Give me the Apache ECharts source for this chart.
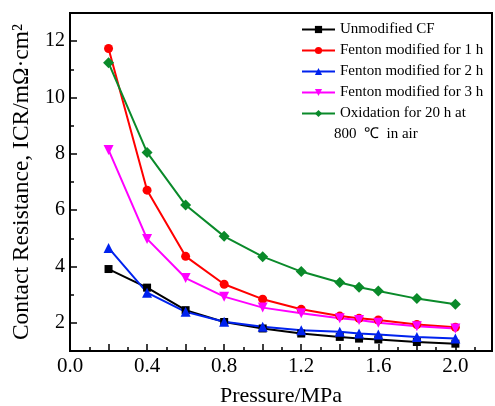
<!DOCTYPE html>
<html>
<head>
<meta charset="utf-8">
<script src="https://cdn.jsdelivr.net/npm/echarts@6/dist/echarts.min.js"></script>
<style>html,body{margin:0;padding:0;background:#fff;}#c{width:495px;height:406px;}</style>
</head>
<body>
<div id="c"></div>
<script>
const pressure = [0.2, 0.4, 0.6, 0.8, 1.0, 1.2, 1.4, 1.5, 1.6, 1.8, 2.0];
const unmodified = [3.91, 3.25, 2.45, 2.03, 1.80, 1.62, 1.50, 1.44, 1.41, 1.32, 1.26];
const fenton1h = [11.74, 6.71, 4.36, 3.37, 2.84, 2.48, 2.24, 2.16, 2.10, 1.94, 1.84];
const fenton2h = [4.66, 3.07, 2.39, 2.04, 1.86, 1.74, 1.68, 1.62, 1.59, 1.50, 1.44];
const fenton3h = [8.14, 4.98, 3.59, 2.93, 2.54, 2.34, 2.16, 2.10, 2.00, 1.88, 1.80];
const oxidation = [11.23, 8.05, 6.18, 5.07, 4.35, 3.82, 3.43, 3.26, 3.13, 2.86, 2.66];

const seriesNames = ['Unmodified CF', 'Fenton modified for 1 h', 'Fenton modified for 2 h', 'Fenton modified for 3 h', 'Oxidation for 20 h at 800  \u2103  in air'];
const yMajorTicks = [2, 4, 6, 8, 10, 12];
const yMinorTicks = [3, 5, 7, 9, 11];
const xLabels = [0, 0.4, 0.8, 1.2, 1.6, 2.0];

const FONT = "'Liberation Serif', 'Times New Roman', serif";
function pairs(vals) { return pressure.map((p, i) => [p, vals[i]]); }

const chart = echarts.init(document.getElementById('c'), null, {renderer: 'canvas'});
const mk = (name, vals, color, symbol, size) => ({
  name, type: 'line', data: pairs(vals), symbol, symbolSize: size,
  lineStyle: {color, width: 2}, itemStyle: {color}, showSymbol: true, z: 3
});

chart.setOption({
  animation: false,
  backgroundColor: '#fff',
  grid: {left: 70, right: 3, top: 13, bottom: 55, show: true, borderColor: '#000', borderWidth: 2, containLabel: false, outerBoundsMode: 'none'},
  legend: {
    orient: 'vertical', left: 296, top: 14, itemGap: 0, itemWidth: 33, itemHeight: 9,
    data: seriesNames,
    textStyle: {fontFamily: FONT, fontSize: 15, color: '#000', lineHeight: 21},
    formatter: function (n) { return n === seriesNames[4] ? 'Oxidation for 20 h at' : n; }
  },
  graphic: [{type: 'text', left: 334, top: 127, style: {text: '800  \u2103  in air', font: '15px ' + FONT, fill: '#000'}}],
  xAxis: {
    type: 'value', min: 0, max: 2.19, interval: 0.2,
    name: 'Pressure/MPa', nameLocation: 'middle', nameGap: 34,
    nameTextStyle: {fontFamily: FONT, fontSize: 22, color: '#000'},
    axisLine: {lineStyle: {color: '#000', width: 2}},
    axisTick: {inside: true, length: 7, lineStyle: {color: '#000', width: 1.5}},
    minorTick: {show: true, splitNumber: 2, length: 4, lineStyle: {color: '#000', width: 1.5}},
    axisLabel: {fontFamily: FONT, fontSize: 21, color: '#000', margin: 5,
      formatter: function (v) { const k = Math.round(v * 10); return (k % 4 === 0 && Math.abs(v * 10 - k) < 1e-6) ? v.toFixed(1) : ''; }},
    splitLine: {show: false}, minorSplitLine: {show: false}
  },
  yAxis: [{
    type: 'value', min: 1, max: 13,
    name: 'Contact Resistance, ICR/m\u03A9\u00B7cm\u00B2', nameLocation: 'middle', nameGap: 31,
    nameTextStyle: {fontFamily: FONT, fontSize: 23.5, color: '#000'},
    axisLine: {lineStyle: {color: '#000', width: 2}},
    axisTick: {inside: true, length: 7, customValues: yMajorTicks, lineStyle: {color: '#000', width: 1.5}},
    axisLabel: {fontFamily: FONT, fontSize: 20, color: '#000', margin: 5, customValues: yMajorTicks},
    splitLine: {show: false}
  }, {
    type: 'value', min: 1, max: 13, position: 'left',
    axisLine: {show: false},
    axisTick: {inside: true, length: 4, customValues: yMinorTicks, lineStyle: {color: '#000', width: 1.5}},
    axisLabel: {show: false}, splitLine: {show: false}
  }],
  series: [
    mk(seriesNames[0], unmodified, '#000000', 'rect', 8),
    mk(seriesNames[1], fenton1h, '#ff0000', 'circle', 9),
    mk(seriesNames[2], fenton2h, '#0022ee', 'triangle', 10),
    mk(seriesNames[3], fenton3h, '#ff00ff', 'path://M0,0 L10,0 L5,9 Z', 10),
    mk(seriesNames[4], oxidation, '#0a8a2a', 'diamond', 11)
  ]
});
</script>
</body>
</html>
